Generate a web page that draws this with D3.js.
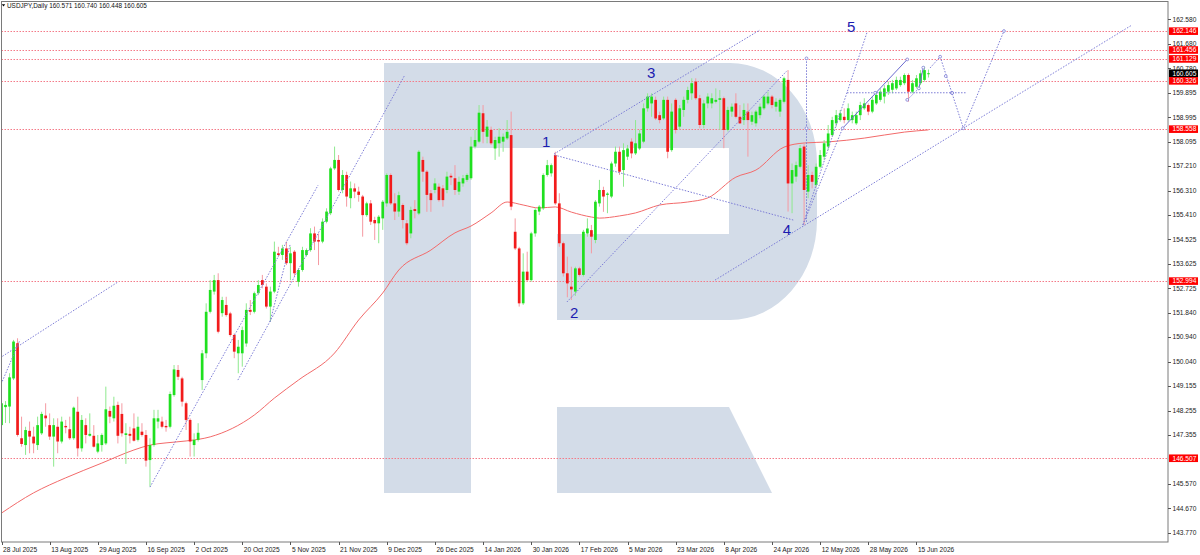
<!DOCTYPE html>
<html>
<head>
<meta charset="utf-8">
<script src="https://cdnjs.cloudflare.com/ajax/libs/d3/7.8.5/d3.min.js"></script>
<style>
  body { margin: 0; background: #fff; }
  svg { display: block; }
  text { font-family: "Liberation Sans", Arial, sans-serif; }
</style>
</head>
<body>
<div id="vis"></div>
<script>
// USDJPY daily bars (bar 0 = 28 Jul 2025)
const opens = [147.72,148.38,148.40,149.43,150.72,147.24,146.99,147.51,147.30,146.99,147.42,148.07,147.72,147.30,147.66,147.12,147.69,147.57,147.24,148.21,
146.87,147.72,147.33,147.33,146.75,146.99,147.05,148.24,147.97,148.46,148.13,147.36,147.40,147.60,147.18,147.48,147.36,146.44,146.99,147.85,
147.85,147.69,147.66,148.82,149.74,149.43,148.52,147.91,146.99,147.18,149.37,150.35,151.87,152.61,153.03,151.82,152.12,151.81,151.02,150.35,
150.35,150.71,151.94,151.87,152.55,153.03,152.79,152.06,152.61,154.01,153.95,154.19,153.65,154.07,152.97,153.40,153.95,154.13,154.74,154.50,
154.44,155.17,155.48,157.12,157.43,156.33,156.88,156.03,156.39,156.27,156.09,155.41,155.84,155.23,155.11,155.29,155.84,156.88,155.84,155.54,
155.78,155.11,154.74,155.63,155.47,157.43,157.00,156.21,156.33,156.45,156.39,156.33,156.85,156.76,156.27,156.57,156.70,156.76,157.92,158.10,
159.14,158.28,158.53,157.85,158.04,158.10,158.22,158.34,154.80,154.19,152.18,153.34,153.03,154.74,155.54,155.66,156.88,156.94,157.61,155.84,
154.38,153.28,152.79,152.61,153.46,153.22,154.74,154.86,154.50,155.84,156.33,156.15,156.09,157.30,157.73,157.06,157.55,158.10,157.67,157.85,
158.10,159.32,159.50,159.63,159.07,158.95,159.63,157.79,159.63,158.65,159.26,159.63,159.87,160.30,159.69,158.71,159.50,159.50,159.56,159.63,
159.69,158.53,159.20,159.50,159.01,158.89,159.20,158.83,158.77,159.07,159.32,159.50,159.75,159.38,159.20,159.56,160.36,156.57,156.82,157.18,
157.92,156.27,156.88,156.51,157.18,157.55,157.92,158.34,158.77,158.89,159.01,158.89,158.89,158.77,159.07,159.32,159.44,159.20,159.50,159.63,
159.75,159.93,160.00,160.05,160.17,160.24,160.54,159.93,160.11,160.24,160.36,160.571];
const highs = [148.76,148.60,149.62,150.84,150.90,148.03,147.66,147.85,147.66,148.03,148.21,148.52,148.15,147.97,147.97,148.03,147.91,148.03,148.40,148.76,
148.09,147.97,148.15,147.72,147.36,147.42,149.13,148.40,148.76,148.58,148.52,147.79,147.66,148.15,148.03,147.79,147.54,147.24,148.28,148.28,
148.03,147.91,148.95,149.92,149.92,149.49,148.58,147.97,147.42,147.79,150.47,152.18,153.03,153.22,153.28,152.42,152.42,151.87,151.08,150.84,
151.33,152.18,152.30,152.61,153.03,153.22,152.91,152.79,154.44,154.25,154.32,154.44,154.25,154.13,153.46,154.25,154.19,154.93,154.99,154.74,
155.29,155.66,157.18,157.92,157.61,157.06,157.00,156.64,156.57,156.45,156.15,155.90,155.96,155.35,155.41,155.96,156.94,156.94,156.21,156.27,
155.84,155.23,155.72,155.96,157.79,157.55,157.06,156.33,156.76,156.57,156.51,157.00,156.94,157.24,156.82,156.88,156.94,158.28,158.53,159.44,
159.44,158.89,158.65,158.28,158.59,158.40,158.89,159.20,155.29,154.25,154.01,154.07,154.80,155.66,155.78,156.94,157.43,157.30,157.73,156.21,
154.44,153.89,153.52,153.52,153.52,154.87,155.29,155.05,155.96,156.70,156.45,156.25,157.37,157.92,157.92,158.04,157.98,158.22,158.89,158.53,
159.50,159.87,159.87,159.75,159.20,159.75,159.75,159.50,159.69,159.44,159.75,160.11,160.42,160.42,159.81,159.63,159.87,159.87,160.05,159.99,
159.75,159.38,159.50,159.87,159.44,159.50,159.50,159.20,159.26,159.50,159.81,159.93,159.81,159.69,159.69,160.48,160.72,157.30,157.37,157.98,
158.04,157.24,157.00,157.30,157.79,158.16,158.71,159.01,159.26,159.26,159.32,159.50,159.20,159.20,159.56,159.69,159.50,159.75,159.93,160.05,
160.17,160.30,160.36,160.48,160.48,160.60,160.60,160.36,160.54,160.72,160.85,160.740];
const lows = [147.48,147.80,147.79,149.37,147.30,146.93,146.63,146.69,146.69,146.81,147.36,147.66,147.18,146.20,146.69,147.05,147.42,147.18,147.18,146.57,
146.75,147.05,147.30,146.90,146.69,146.75,146.99,147.79,147.85,147.05,147.30,146.30,147.05,147.12,147.12,147.30,146.20,145.47,146.93,147.60,
147.60,147.48,147.60,148.76,149.37,148.40,147.54,146.57,146.57,147.12,149.01,150.17,151.81,152.50,151.08,151.69,151.69,150.96,150.17,149.62,
149.86,150.59,151.75,151.81,152.48,152.73,151.99,151.51,152.55,153.89,153.77,153.58,153.03,153.16,152.79,153.34,153.89,154.07,154.13,153.58,
154.38,155.11,155.41,157.06,156.27,156.21,155.72,155.66,156.03,155.90,154.62,155.35,155.05,154.50,154.38,154.87,155.72,155.78,155.23,155.35,
154.92,154.31,154.56,155.29,155.41,156.63,155.53,155.53,156.21,155.90,155.72,156.21,156.51,156.15,156.15,156.45,156.63,156.70,157.85,158.04,
158.04,158.04,157.98,157.43,157.55,157.73,158.16,155.59,154.13,152.06,152.12,152.97,152.97,154.62,155.41,155.60,156.82,156.82,155.78,154.25,
153.16,152.40,152.30,152.45,153.16,153.16,154.62,154.01,154.38,155.72,155.53,155.48,156.03,157.18,156.88,156.45,157.43,157.49,157.61,157.79,
158.04,159.20,159.01,158.89,158.77,158.89,157.49,157.73,158.40,158.53,159.01,159.50,159.63,159.63,158.59,158.59,159.32,159.32,159.50,158.53,
157.86,158.47,159.01,158.95,158.75,158.71,157.55,158.71,158.65,158.95,159.26,159.44,159.32,159.20,159.01,159.50,155.54,155.48,156.63,157.12,
155.05,156.03,156.39,156.45,157.12,157.43,157.79,158.28,158.65,158.83,158.77,158.83,158.77,158.71,158.89,159.26,159.07,159.14,159.44,159.56,
159.50,159.81,159.87,159.99,160.11,160.17,159.56,159.87,160.05,160.17,160.30,160.448];
const closes = [148.52,148.46,149.47,150.78,147.36,147.03,147.54,147.30,147.05,147.72,148.13,147.97,147.30,147.72,147.12,147.85,147.64,147.24,148.36,146.87,
147.91,147.36,147.40,146.93,147.05,147.36,148.30,148.03,148.43,147.33,147.42,147.42,147.33,147.15,147.66,147.36,146.42,146.99,147.97,147.97,
147.66,147.64,148.86,149.76,149.49,148.58,147.91,147.12,147.18,147.44,150.35,151.87,152.67,153.03,151.14,152.30,151.75,151.02,150.41,150.59,
151.20,151.94,151.87,152.55,152.85,152.85,152.06,152.61,154.07,153.95,154.19,153.65,154.01,153.28,153.40,154.13,154.13,154.74,154.44,154.44,
155.17,155.54,157.12,157.43,156.33,156.88,156.09,156.39,156.27,156.15,155.41,155.84,155.17,155.11,155.35,155.90,156.88,155.84,155.54,156.14,
155.23,154.38,155.60,155.56,157.73,157.00,156.15,155.96,156.57,155.96,155.96,156.82,156.79,156.33,156.63,156.76,156.88,157.92,158.16,159.16,
158.46,158.65,158.04,158.16,158.28,158.28,158.46,155.72,154.19,152.18,153.34,153.03,154.74,155.60,155.72,156.88,157.24,157.24,155.84,154.38,
153.28,152.91,152.69,153.46,153.22,154.80,154.92,154.62,155.90,156.33,156.09,156.20,157.30,157.73,157.00,157.79,157.85,157.67,158.04,158.40,
159.32,159.75,159.75,158.95,158.89,159.63,157.73,159.20,158.53,159.32,159.63,159.99,160.24,159.69,158.71,159.50,159.75,159.69,159.63,159.69,
158.53,159.26,159.38,159.01,158.77,159.26,158.89,159.07,159.20,159.38,159.75,159.75,159.44,159.56,159.63,160.42,156.57,157.06,157.24,157.86,
156.33,156.88,156.63,157.18,157.61,158.04,158.40,158.89,159.07,159.14,158.89,159.32,159.07,159.07,159.44,159.50,159.20,159.63,159.81,159.93,
160.05,160.17,160.24,160.36,160.36,160.54,159.93,160.24,160.42,160.60,160.72,160.605];

// moving average, sampled at these bars
const maBars = [0,8,16,25,33,37,41,46,52,63,68,74,83,89,95,99,107,113,117,122,126,130,134,138,142,147,149,154,158,164,171,176,183,188,195,200,206,215,225,231];
const maValues = [144.50,145.24,145.79,146.33,146.81,146.99,147.07,147.14,147.29,148.09,148.71,149.37,150.36,151.57,152.56,153.40,154.13,154.76,155.01,155.49,
155.89,155.78,155.67,155.71,155.52,155.34,155.30,155.38,155.49,155.78,155.89,156.04,156.80,157.06,157.90,158.05,158.09,158.23,158.45,158.53];

const dateLabels = ["28 Jul 2025","13 Aug 2025","29 Aug 2025","16 Sep 2025","2 Oct 2025","20 Oct 2025","5 Nov 2025","21 Nov 2025","9 Dec 2025","26 Dec 2025",
"14 Jan 2026","30 Jan 2026","17 Feb 2026","5 Mar 2026","23 Mar 2026","8 Apr 2026","24 Apr 2026","12 May 2026","28 May 2026","15 Jun 2026"];
const dateStep = 12;

const priceTicks = [162.580,161.680,160.780,159.895,158.995,158.095,157.210,156.310,155.410,154.525,153.625,152.725,151.840,150.940,150.040,149.155,148.255,147.355,145.570,144.670,143.770];
const levels = [162.146,161.456,161.129,160.326,158.558,152.994,146.507];
const lastPrice = 160.605;

// wave markup: [bar1, price1, bar2, price2]
const dottedLines = [
  [-0.4,150.18, 29.0,152.96], [-0.4,149.12, 4.6,150.84],
  [37.0,145.45, 78.9,156.51], [58.9,149.37, 100.5,160.54], [66.9,151.50, 71.9,154.32],
  [137.7,157.65, 189.0,162.19], [137.8,157.61, 197.3,155.23], [140.9,152.23, 195.7,160.69],
  [177.8,153.03, 281.7,162.37], [200.6,161.15, 200.6,155.12],
  [199.7,155.05, 215.7,162.11], [199.7,155.05, 209.6,158.59],
  [210.7,159.89, 240.6,159.89], [225.7,159.63, 228.6,160.05],
  [231.4,160.80, 233.9,161.21], [233.9,161.21, 239.7,158.59], [239.7,158.59, 249.8,162.15]
];
const solidLines = [[209.6,158.59, 225.7,161.11], [228.6,160.05, 229.7,160.81]];
const markerBars = [209.6,217.7,225.7,236.8,200.6,200.6,225.7,228.6,229.7,233.9,239.7,249.8,235.3,236.9];
const markerPrices = [158.59,159.89,161.11,159.89,161.15,158.59,159.63,160.05,160.81,161.21,158.59,162.15,160.50,159.88];
const waveNames = ["1","2","3","4","5"];
const waveBars = [135.7,142.7,161.9,195.7,211.7];
const wavePrices = [158.12,151.86,160.65,154.87,162.30];

const header = "USDJPY,Daily  160.571 160.740 160.448 160.605";

function render() {
  const width = 1200, height = 555;
  const plotRight = 1168, plotBottom = 542;
  const bull = "#1fe01f", bear = "#f21b1b";

  const svg = d3.select("#vis").append("svg")
    .attr("width", width)
    .attr("height", height);

  svg.append("rect").attr("width", width).attr("height", height).attr("fill", "#fff");

  const x = d3.scaleLinear().domain([0, 231]).range([1.5, 1.5 + 4.013 * 231]);
  const y = d3.scaleLinear().domain([143.77, 162.58]).range([533.0, 19.3]);

  svg.append("clipPath").attr("id", "plotClip")
    .append("rect").attr("x", 1.5).attr("y", 1.5).attr("width", plotRight - 1.5).attr("height", plotBottom - 1.5);

  const g = svg.append("g").attr("clip-path", "url(#plotClip)");

  // watermark logo
  g.append("path")
    .attr("d", "M384,63 H730 A87,100 0 0 1 817,163 V220 A87,100 0 0 1 730,320 H557 V234 H729 V148 H471 V493 H384 Z")
    .attr("fill", "#d3dce8");
  g.append("path")
    .attr("d", "M557,407 H729 L772,493 H557 Z")
    .attr("fill", "#d3dce8");

  // red levels
  g.selectAll(".level").data(levels).join("line")
    .attr("x1", 1.5).attr("x2", plotRight)
    .attr("y1", d => Math.round(y(d)) + 0.5).attr("y2", d => Math.round(y(d)) + 0.5)
    .attr("stroke", "#f47a88").attr("stroke-dasharray", "1.5,1.5").attr("stroke-width", 1);

  // moving average
  const ma = maBars.map((b, k) => [b, maValues[k]]);
  g.append("path")
    .datum(ma)
    .attr("d", d3.line().x(d => x(d[0])).y(d => y(d[1])).curve(d3.curveMonotoneX))
    .attr("fill", "none").attr("stroke", "#f26a6a").attr("stroke-width", 1);

  // candles
  const bars = closes.map((c, i) => ({ i, o: opens[i], h: highs[i], l: lows[i], c }));
  g.selectAll(".wick").data(bars).join("line")
    .attr("x1", d => x(d.i)).attr("x2", d => x(d.i))
    .attr("y1", d => y(d.h)).attr("y2", d => y(d.l))
    .attr("stroke", d => d.c >= d.o ? "#8ee98e" : "#f59aa2")
    .attr("stroke-width", 1);
  g.selectAll(".body").data(bars).join("rect")
    .attr("x", d => x(d.i) - 1.35)
    .attr("width", 2.7)
    .attr("y", d => y(Math.max(d.o, d.c)))
    .attr("height", d => Math.max(1, Math.abs(y(d.o) - y(d.c))))
    .attr("fill", d => d.c >= d.o ? bull : bear);

  // wave markup
  g.selectAll(".dot").data(dottedLines).join("line")
    .attr("x1", d => x(d[0])).attr("y1", d => y(d[1]))
    .attr("x2", d => x(d[2])).attr("y2", d => y(d[3]))
    .attr("stroke", "#7c7cd6").attr("stroke-width", 1).attr("stroke-dasharray", "1.5,1.5");
  g.selectAll(".solid").data(solidLines).join("line")
    .attr("x1", d => x(d[0])).attr("y1", d => y(d[1]))
    .attr("x2", d => x(d[2])).attr("y2", d => y(d[3]))
    .attr("stroke", "#6b6bd0").attr("stroke-width", 1);
  g.selectAll(".marker").data(markerBars).join("circle")
    .attr("cx", (d, k) => x(d)).attr("cy", (d, k) => y(markerPrices[k]))
    .attr("r", 1.4).attr("fill", "#fff").attr("stroke", "#6b6bd0").attr("stroke-width", 0.7);
  g.selectAll(".wave").data(waveNames).join("text")
    .attr("x", (d, k) => x(waveBars[k])).attr("y", (d, k) => y(wavePrices[k]) + 5.5)
    .attr("text-anchor", "middle")
    .attr("font-size", 15).attr("fill", "#1c1cb0")
    .text(d => d);

  // frame
  svg.append("rect").attr("x", 1.5).attr("y", 1.5)
    .attr("width", plotRight - 1.5).attr("height", plotBottom - 1.5)
    .attr("fill", "none").attr("stroke", "#7a7a7a").attr("stroke-width", 1);

  // price axis
  const pa = svg.append("g");
  pa.selectAll("line").data(priceTicks).join("line")
    .attr("x1", plotRight).attr("x2", plotRight + 3)
    .attr("y1", d => Math.round(y(d)) + 0.5).attr("y2", d => Math.round(y(d)) + 0.5)
    .attr("stroke", "#555");
  pa.selectAll("text").data(priceTicks).join("text")
    .attr("x", plotRight + 4.5).attr("y", d => y(d) + 2.3)
    .attr("font-size", 6.6).attr("fill", "#222")
    .text(d => d.toFixed(3));

  const tags = levels.map(v => ({ v, bg: "#ff0000" })).concat([{ v: lastPrice, bg: "#000" }]);
  const tag = svg.append("g").selectAll("g").data(tags).join("g")
    .attr("transform", d => `translate(${plotRight + 1},${y(d.v)})`);
  tag.append("rect").attr("x", 0).attr("y", -3.8).attr("width", 29).attr("height", 7.6).attr("fill", d => d.bg);
  tag.append("text").attr("x", 3.5).attr("y", 2.3)
    .attr("font-size", 6.6).attr("fill", "#fff")
    .text(d => d.v.toFixed(3));

  // time axis
  const ta = svg.append("g");
  ta.selectAll("line").data(dateLabels).join("line")
    .attr("x1", (d, k) => Math.round(x(k * dateStep)) + 0.5).attr("x2", (d, k) => Math.round(x(k * dateStep)) + 0.5)
    .attr("y1", plotBottom).attr("y2", plotBottom + 3)
    .attr("stroke", "#555");
  ta.selectAll("text").data(dateLabels).join("text")
    .attr("x", (d, k) => x(k * dateStep) + 1.5).attr("y", 551.5)
    .attr("font-size", 6.6).attr("fill", "#222")
    .text(d => d);

  // header
  svg.append("path").attr("d", "M1.8,4.2 L5.2,4.2 L3.5,6.6 Z").attr("fill", "#000");
  svg.append("text").attr("x", 7).attr("y", 8.2)
    .attr("font-size", 6.4).attr("fill", "#111")
    .text(header);
}

render();
</script>
</body>
</html>
